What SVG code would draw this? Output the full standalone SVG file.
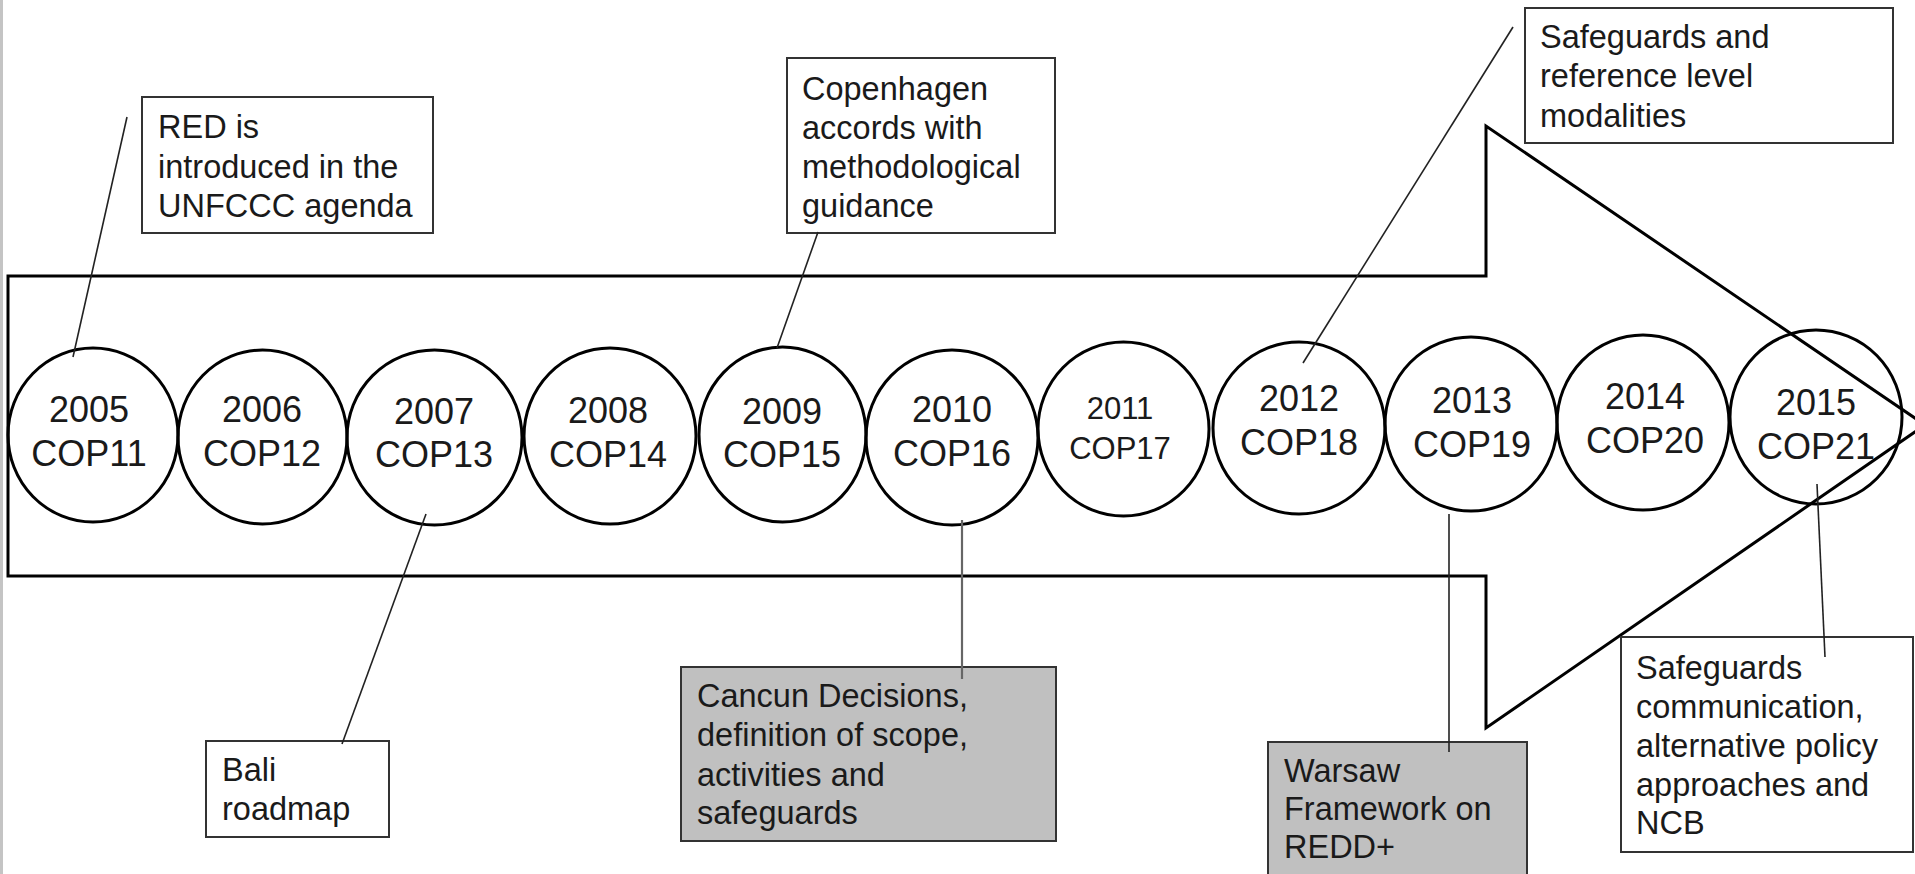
<svg xmlns="http://www.w3.org/2000/svg" width="1915" height="874" viewBox="0 0 1915 874">
  <style>
    .yr { font-family: "Liberation Sans", Arial, sans-serif; font-size: 36px; fill: #1a1a1a; text-anchor: middle; }
    .sm { font-size: 31px; }
    .bt { font-family: "Liberation Sans", Arial, sans-serif; font-size: 32.5px; fill: #1a1a1a; }
    .cop { fill: none; stroke: #000; stroke-width: 3; }
    .box { fill: #ffffff; stroke: #333; stroke-width: 2; }
    .gbox { fill: #c0c0c0; stroke: #333; stroke-width: 2; }
    .con { stroke: #222; stroke-width: 1.6; fill: none; }
    .cong { stroke: #666; stroke-width: 2.2; fill: none; }
  </style>
  <rect x="0" y="0" width="1915" height="874" fill="#ffffff"/>
  <line x1="1.5" y1="0" x2="1.5" y2="874" stroke="#c4c4c4" stroke-width="3"/>

  <g id="timeline-arrow">
    <polygon points="8,276 1486,276 1486,126 1925,425 1486,728 1486,576 8,576" fill="none" stroke="#000" stroke-width="3" stroke-linejoin="miter"/>
  </g>

  <g id="cop11"><ellipse class="cop" cx="93" cy="435" rx="85" ry="87"/><text class="yr" x="89" y="422">2005</text><text class="yr" x="89" y="466">COP11</text></g>
  <g id="cop12"><ellipse class="cop" cx="262.5" cy="437" rx="84.5" ry="87"/><text class="yr" x="262" y="422">2006</text><text class="yr" x="262" y="466">COP12</text></g>
  <g id="cop13"><ellipse class="cop" cx="434.5" cy="437.5" rx="87.5" ry="87.5"/><text class="yr" x="434" y="424">2007</text><text class="yr" x="434" y="467">COP13</text></g>
  <g id="cop14"><ellipse class="cop" cx="610" cy="436" rx="86" ry="88"/><text class="yr" x="608" y="423">2008</text><text class="yr" x="608" y="467">COP14</text></g>
  <g id="cop15"><ellipse class="cop" cx="782.5" cy="434.5" rx="83.5" ry="87.5"/><text class="yr" x="782" y="424">2009</text><text class="yr" x="782" y="467">COP15</text></g>
  <g id="cop16"><ellipse class="cop" cx="952" cy="437.5" rx="86" ry="87.5"/><text class="yr" x="952" y="422">2010</text><text class="yr" x="952" y="466">COP16</text></g>
  <g id="cop17"><ellipse class="cop" cx="1123.5" cy="429" rx="85.5" ry="87"/><text class="yr sm" x="1120" y="419">2011</text><text class="yr sm" x="1120" y="459">COP17</text></g>
  <g id="cop18"><ellipse class="cop" cx="1299" cy="428" rx="86" ry="86"/><text class="yr" x="1299" y="411">2012</text><text class="yr" x="1299" y="455">COP18</text></g>
  <g id="cop19"><ellipse class="cop" cx="1471" cy="424" rx="86" ry="87"/><text class="yr" x="1472" y="413">2013</text><text class="yr" x="1472" y="457">COP19</text></g>
  <g id="cop20"><ellipse class="cop" cx="1643" cy="422.5" rx="86" ry="87.5"/><text class="yr" x="1645" y="409">2014</text><text class="yr" x="1645" y="453">COP20</text></g>
  <g id="cop21"><ellipse class="cop" cx="1816" cy="417" rx="86" ry="87"/><text class="yr" x="1816" y="415">2015</text><text class="yr" x="1816" y="459">COP21</text></g>

  <g id="box-red">
    <rect class="box" x="142" y="97" width="291" height="136"/>
    <text class="bt" x="158"><tspan x="158" y="138">RED is</tspan><tspan x="158" y="178">introduced in the</tspan><tspan x="158" y="217">UNFCCC agenda</tspan></text>
  </g>
  <g id="box-copenhagen">
    <rect class="box" x="787" y="58" width="268" height="175"/>
    <text class="bt"><tspan x="802" y="100">Copenhagen</tspan><tspan x="802" y="139">accords with</tspan><tspan x="802" y="178">methodological</tspan><tspan x="802" y="217">guidance</tspan></text>
  </g>
  <g id="box-modalities">
    <rect class="box" x="1525" y="8" width="368" height="135"/>
    <text class="bt"><tspan x="1540" y="48">Safeguards and</tspan><tspan x="1540" y="87">reference level</tspan><tspan x="1540" y="127">modalities</tspan></text>
  </g>
  <g id="box-bali">
    <rect class="box" x="206" y="741" width="183" height="96"/>
    <text class="bt"><tspan x="222" y="781">Bali</tspan><tspan x="222" y="820">roadmap</tspan></text>
  </g>
  <g id="box-cancun">
    <rect class="gbox" x="681" y="667" width="375" height="174"/>
    <text class="bt"><tspan x="697" y="707">Cancun Decisions,</tspan><tspan x="697" y="746">definition of scope,</tspan><tspan x="697" y="786">activities and</tspan><tspan x="697" y="824">safeguards</tspan></text>
  </g>
  <g id="box-warsaw">
    <rect class="gbox" x="1268" y="742" width="259" height="150"/>
    <text class="bt"><tspan x="1284" y="782">Warsaw</tspan><tspan x="1284" y="820">Framework on</tspan><tspan x="1284" y="858">REDD+</tspan></text>
  </g>
  <g id="box-communication">
    <rect class="box" x="1621" y="637" width="292" height="215"/>
    <text class="bt"><tspan x="1636" y="679">Safeguards</tspan><tspan x="1636" y="718">communication,</tspan><tspan x="1636" y="757">alternative policy</tspan><tspan x="1636" y="796">approaches and</tspan><tspan x="1636" y="834">NCB</tspan></text>
  </g>

  <g id="connectors">
    <line class="con" x1="127" y1="117" x2="73" y2="357"/>
    <line class="con" x1="426" y1="514" x2="342" y2="744"/>
    <line class="con" x1="818" y1="232" x2="777" y2="348"/>
    <line class="cong" x1="962" y1="520" x2="962" y2="679"/>
    <line class="con" x1="1513" y1="27" x2="1303" y2="363"/>
    <line class="con" x1="1449" y1="514" x2="1449" y2="752"/>
    <line class="con" x1="1817" y1="484" x2="1825" y2="657"/>
  </g>
</svg>
